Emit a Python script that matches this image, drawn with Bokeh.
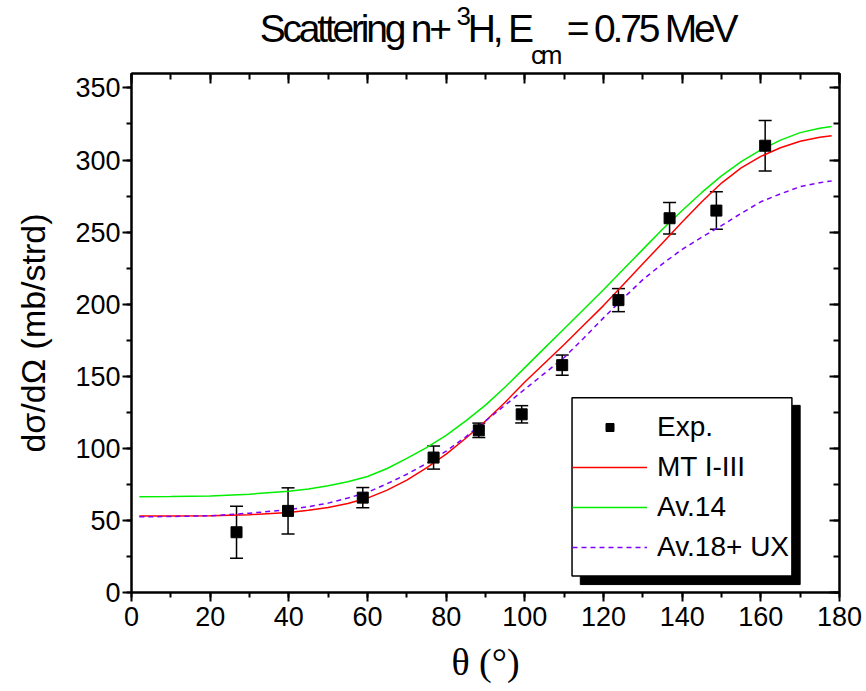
from bokeh.plotting import figure
from bokeh.models import (ColumnDataSource, Whisker, TeeHead, LinearAxis, SingleIntervalTicker,
                          Legend, LegendItem, BoxAnnotation, Div, CustomJSTickFormatter)
from bokeh.layouts import column
from bokeh.embed import file_html
from bokeh.resources import INLINE

# ---------------- data ----------------
theta_exp = [26.7, 39.8, 58.8, 76.8, 88.3, 99.2, 109.5, 123.8, 136.8, 148.7, 161.1]
sigma_exp = [41.8, 56.6, 65.8, 93.6, 112.5, 123.6, 157.7, 202.8, 259.6, 264.9, 309.9]
err_exp = [18.0, 16.0, 7.0, 8.0, 5.0, 6.0, 7.0, 8.0, 11.0, 13.0, 17.5]

theta_curve = [2, 10, 20, 30, 40, 45, 50, 55, 60, 65, 70, 75, 80, 85, 90, 95, 100, 105, 110,
               115, 120, 125, 130, 135, 140, 145, 150, 155, 160, 165, 170, 175, 178]
mt_1_3 = [53.0, 53.0, 53.3, 54.0, 55.5, 57.0, 59.0, 61.8, 65.5, 71.0, 78.0, 86.5, 96.0, 107.0,
          119.0, 132.0, 146.0, 159.0, 172.0, 185.5, 199.0, 213.5, 228.0, 242.5, 257.0, 271.0,
          284.0, 294.5, 302.5, 308.5, 313.0, 315.8, 316.8]
av_14 = [66.5, 66.6, 67.0, 68.2, 70.2, 71.8, 74.0, 76.8, 80.5, 86.0, 93.0, 100.5, 109.0, 119.0,
         130.0, 142.5, 156.0, 169.5, 183.0, 196.5, 210.0, 224.0, 238.0, 252.0, 265.0, 277.5,
         289.0, 298.8, 307.0, 313.8, 319.0, 322.0, 323.2]
av_18_uix = [52.5, 52.7, 53.2, 55.0, 57.5, 59.5, 62.0, 65.5, 69.5, 75.5, 82.0, 89.5, 98.0, 108.0,
             119.0, 130.0, 141.0, 152.0, 163.0, 176.5, 190.5, 204.0, 217.0, 228.0, 238.0, 246.5,
             254.5, 263.0, 271.0, 276.5, 281.5, 284.3, 285.5]

legend_labels = ["Exp.", "MT I-III", "Av.14", "Av.18+ UX"]
x_ticks_interval = 20
y_ticks_interval = 50

FONT = "Liberation Sans"

# ---------------- title (HTML, with super/subscripts) ----------------
title_html = (
    '<div style="margin-left:129px;width:737px;text-align:center;padding-top:10px;'
    "font-family:'Liberation Sans',Arial,sans-serif;font-size:39px;line-height:38px;"
    'letter-spacing:-3.2px;color:#000;white-space:nowrap;">'
    'Scattering n+ <span style="font-size:26px;position:relative;top:-17px;">3</span>H, '
    'E<span style="font-size:26px;position:relative;top:22px;">cm</span> = 0.75 MeV'
    '</div>'
)
title_div = Div(text=title_html, width=866, height=70, margin=(0, 0, 0, 0))

# ---------------- figure ----------------
p = figure(width=866, height=621, x_range=(0, 180), y_range=(0, 360),
           output_backend="svg", toolbar_location=None,
           min_border_left=131, min_border_right=27, min_border_top=3, min_border_bottom=99)
p.margin = (0, 0, 0, 0)
p.grid.visible = False
p.outline_line_color = "black"
p.outline_line_width = 2
p.background_fill_color = "white"
p.border_fill_color = "white"

xt = SingleIntervalTicker(interval=x_ticks_interval, num_minor_ticks=2)
yt = SingleIntervalTicker(interval=y_ticks_interval, num_minor_ticks=2)

for ax, tk in ((p.xaxis[0], xt), (p.yaxis[0], yt)):
    ax.ticker = tk
    ax.axis_line_width = 2
    ax.major_tick_line_width = 2
    ax.minor_tick_line_width = 2
    ax.major_tick_in = 0
    ax.major_tick_out = 9
    ax.minor_tick_in = 0
    ax.minor_tick_out = 5
    ax.major_label_text_font = FONT
    ax.major_label_text_font_size = "27px"
    ax.major_label_text_color = "black"
    ax.axis_label_text_font_style = "normal"
    ax.axis_label_text_color = "black"

p.xaxis.axis_label = "θ (°)"
p.xaxis.axis_label_text_font = "Liberation Serif"
p.xaxis.axis_label_text_font_size = "38px"
p.xaxis.major_label_standoff = 5
p.xaxis.axis_label_standoff = 12

p.yaxis.axis_label = "dσ/dΩ (mb/strd)"
p.yaxis.axis_label_text_font = FONT
p.yaxis.axis_label_text_font_size = "34px"
p.yaxis.major_label_standoff = 2
p.yaxis.axis_label_standoff = 20

blank = CustomJSTickFormatter(code="return '';")
for loc, tk in (("above", SingleIntervalTicker(interval=x_ticks_interval, num_minor_ticks=2)),
                ("right", SingleIntervalTicker(interval=y_ticks_interval, num_minor_ticks=2))):
    ax = LinearAxis(ticker=tk, formatter=blank, major_label_standoff=0,
                    major_tick_in=10, major_tick_out=0, minor_tick_in=6, minor_tick_out=0,
                    axis_line_width=2, major_tick_line_width=2, minor_tick_line_width=2)
    p.add_layout(ax, loc)

# ---------------- curves ----------------
curve_src = ColumnDataSource(dict(theta=theta_curve, mt=mt_1_3, av14=av_14, av18=av_18_uix))
r_mt = p.line("theta", "mt", source=curve_src, line_color="#ff0000", line_width=1.5)
r_av14 = p.line("theta", "av14", source=curve_src, line_color="#00ee00", line_width=1.5)
r_av18 = p.line("theta", "av18", source=curve_src, line_color="#8000ff", line_width=1.5,
                line_dash="5 4")

# ---------------- experimental points ----------------
exp_src = ColumnDataSource(dict(
    theta=theta_exp, sigma=sigma_exp,
    upper=[s + e for s, e in zip(sigma_exp, err_exp)],
    lower=[s - e for s, e in zip(sigma_exp, err_exp)],
))
whisk = Whisker(source=exp_src, base="theta", upper="upper", lower="lower",
                line_color="black", line_width=1.5,
                upper_head=TeeHead(size=13, line_color="black", line_width=1.5),
                lower_head=TeeHead(size=13, line_color="black", line_width=1.5))
p.add_layout(whisk)
r_exp = p.scatter("theta", "sigma", source=exp_src, marker="square", size=11,
                  fill_color="black", line_color="black")

# ---------------- legend with drop shadow ----------------
shadow = BoxAnnotation(left=114.1, right=170.0, bottom=5.5, top=129.8,
                       fill_color="black", fill_alpha=1.0, line_color="black", line_alpha=1.0)
box = BoxAnnotation(left=112.0, right=167.9, bottom=11.5, top=135.1,
                    fill_color="white", fill_alpha=1.0, line_color="black", line_width=1.5,
                    line_alpha=1.0)
p.add_layout(shadow)
p.add_layout(box)

legend = Legend(items=[LegendItem(label=legend_labels[0], renderers=[r_exp]),
                       LegendItem(label=legend_labels[1], renderers=[r_mt]),
                       LegendItem(label=legend_labels[2], renderers=[r_av14]),
                       LegendItem(label=legend_labels[3], renderers=[r_av18])],
                location=(441, 29))
legend.padding = 0
legend.margin = 0
legend.spacing = 8
legend.glyph_width = 75
legend.glyph_height = 20
legend.label_height = 20
legend.label_standoff = 10
legend.label_text_font = FONT
legend.label_text_font_size = "28px"
legend.label_text_color = "black"
legend.border_line_alpha = 0
legend.background_fill_alpha = 0
p.add_layout(legend)

layout = column(title_div, p, spacing=0)
open("out.html", "w").write(file_html(layout, INLINE))
